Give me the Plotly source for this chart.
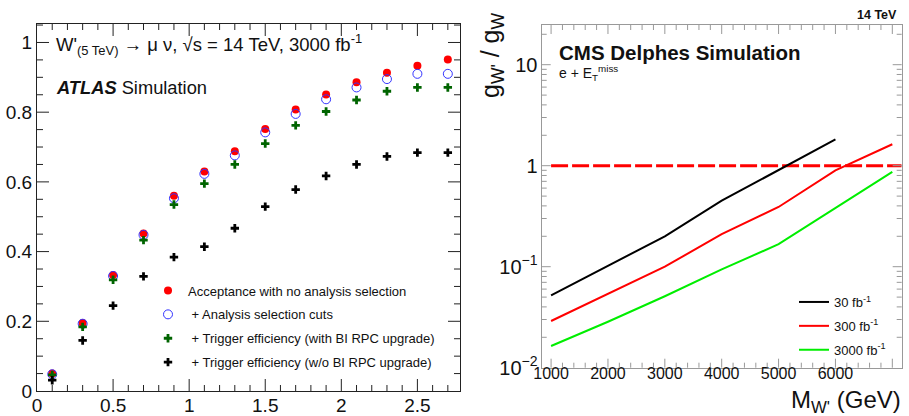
import math
import plotly.graph_objects as go

# ---------------- data: left panel (ATLAS) ----------------
atlas_x = [0.1, 0.3, 0.5, 0.7, 0.9, 1.1, 1.3, 1.5, 1.7, 1.9, 2.1, 2.3, 2.5, 2.7]
acc_noselection = [0.050, 0.195, 0.333, 0.452, 0.560, 0.630, 0.688, 0.752, 0.808, 0.851, 0.886, 0.913, 0.933, 0.951]
acc_analysis = [0.048, 0.193, 0.330, 0.448, 0.553, 0.623, 0.676, 0.742, 0.795, 0.837, 0.871, 0.895, 0.910, 0.910]
acc_trig_bi = [0.046, 0.184, 0.319, 0.433, 0.535, 0.595, 0.650, 0.710, 0.762, 0.802, 0.835, 0.860, 0.871, 0.871]
acc_trig_nobi = [0.031, 0.145, 0.245, 0.329, 0.384, 0.414, 0.467, 0.529, 0.578, 0.617, 0.650, 0.673, 0.684, 0.684]

atlas_names = [
    "Acceptance with no analysis selection",
    " + Analysis selection cuts",
    " + Trigger efficiency (with BI RPC upgrade)",
    " + Trigger efficiency (w/o BI RPC upgrade)",
]

# ---------------- data: right panel (CMS) ----------------
mass_30 = [1000, 2000, 3000, 4000, 5000, 6000]
lim_30 = [0.052, 0.102, 0.200, 0.45, 0.90, 1.82]
mass_300 = [1000, 2000, 3000, 4000, 5000, 6000, 7000]
lim_300 = [0.029, 0.054, 0.100, 0.21, 0.39, 0.90, 1.63]
mass_3000 = [1000, 2000, 3000, 4000, 5000, 6000, 7000]
lim_3000 = [0.0164, 0.0285, 0.051, 0.094, 0.167, 0.38, 0.87]
ref_mass = [1000, 7165]
ref_ratio = [1, 1]

cms_names = ["30 fb<sup>-1</sup>", "300 fb<sup>-1</sup>", "3000 fb<sup>-1</sup>"]

W, H = 909, 416
FONT = "Liberation Sans, Arial, sans-serif"

# frame geometry (pixels)
L_X0, L_X1, L_Y0, L_Y1 = 37, 460, 24, 391
R_X0, R_X1, R_Y0, R_Y1 = 541.7, 901.7, 25, 367.7
L_XR, L_YR = [0, 2.78], [0, 1.053]
R_XR, R_YR = [835, 7165], [-2, 1.393]

def px(x):
    return x / W

def py(y):
    return 1 - y / H

fig = go.Figure()

fig.add_trace(go.Scatter(x=atlas_x, y=acc_noselection, mode="markers", name=atlas_names[0],
                         marker=dict(symbol="circle", size=8, color="#ff0000"),
                         xaxis="x", yaxis="y", legend="legend", legendgroup="a1"))
fig.add_trace(go.Scatter(x=atlas_x, y=acc_analysis, mode="markers", name=atlas_names[1],
                         marker=dict(symbol="circle-open", size=9, color="#3333ff", line=dict(width=1)),
                         xaxis="x", yaxis="y", legend="legend", legendgroup="a2"))
fig.add_trace(go.Scatter(x=atlas_x, y=acc_trig_bi, mode="markers", name=atlas_names[2],
                         marker=dict(symbol="cross", size=7, color="#006400"),
                         xaxis="x", yaxis="y", legend="legend", legendgroup="a3"))
fig.add_trace(go.Scatter(x=atlas_x, y=acc_trig_nobi, mode="markers", name=atlas_names[3],
                         marker=dict(symbol="cross", size=7, color="#000000"),
                         xaxis="x", yaxis="y", legend="legend", legendgroup="a4"))

fig.add_trace(go.Scatter(x=ref_mass, y=ref_ratio, mode="lines", showlegend=False,
                         line=dict(color="#ff0000", width=3, dash="17px,4px"),
                         xaxis="x2", yaxis="y2"))
fig.add_trace(go.Scatter(x=mass_30, y=lim_30, mode="lines", name=cms_names[0],
                         line=dict(color="#000000", width=2),
                         xaxis="x2", yaxis="y2", legend="legend2", legendgroup="c1"))
fig.add_trace(go.Scatter(x=mass_300, y=lim_300, mode="lines", name=cms_names[1],
                         line=dict(color="#ff0000", width=2),
                         xaxis="x2", yaxis="y2", legend="legend2", legendgroup="c2"))
fig.add_trace(go.Scatter(x=mass_3000, y=lim_3000, mode="lines", name=cms_names[2],
                         line=dict(color="#00ee00", width=2),
                         xaxis="x2", yaxis="y2", legend="legend2", legendgroup="c3"))

# ---------------- tick marks (inside, on all four sides) ----------------
shapes = []

def vticks(xref, ydom, vals, length_px, height_px, color):
    f = length_px / height_px
    for v in vals:
        shapes.append(dict(type="line", xref=xref, yref=ydom, x0=v, x1=v, y0=0, y1=f,
                           line=dict(color=color, width=1), layer="above"))
        shapes.append(dict(type="line", xref=xref, yref=ydom, x0=v, x1=v, y0=1, y1=1 - f,
                           line=dict(color=color, width=1), layer="above"))

def hticks(xdom, yref, vals, length_px, width_px, color):
    f = length_px / width_px
    for v in vals:
        shapes.append(dict(type="line", xref=xdom, yref=yref, x0=0, x1=f, y0=v, y1=v,
                           line=dict(color=color, width=1), layer="above"))
        shapes.append(dict(type="line", xref=xdom, yref=yref, x0=1, x1=1 - f, y0=v, y1=v,
                           line=dict(color=color, width=1), layer="above"))

LW, LH = L_X1 - L_X0, L_Y1 - L_Y0
RW, RH = R_X1 - R_X0, R_Y1 - R_Y0

# left panel: major 0.5 / minor 0.1 on x, major 0.2 / minor 0.05 on y
lx_major = [i * 0.5 for i in range(1, 6)]
lx_minor = [i / 10 for i in range(1, 28) if i % 5 != 0]
ly_major = [i * 0.2 for i in range(1, 6)]
ly_minor = [i * 0.05 for i in range(1, 22) if i % 4 != 0]
vticks("x", "y domain", lx_major, 12, LH, "#222222")
vticks("x", "y domain", lx_minor, 6, LH, "#222222")
hticks("x domain", "y", ly_major, 12, LW, "#222222")
hticks("x domain", "y", ly_minor, 6, LW, "#222222")

# right panel: major 1000 / minor 200 on x, decades / 2..9 on log y
rx_major = [1000 * i for i in range(1, 8)]
rx_minor = [200 * i for i in range(5, 36) if i % 5 != 0]
ry_major = [10.0 ** d for d in (-1, 0, 1)]
ry_minor = [k * 10.0 ** d for d in (-2, -1, 0, 1) for k in range(2, 10)
            if math.log10(k * 10.0 ** d) < R_YR[1]]

def logfrac(v):
    return (math.log10(v) - R_YR[0]) / (R_YR[1] - R_YR[0])

vticks("x2", "y2 domain", rx_major, 9, RH, "#999999")
vticks("x2", "y2 domain", rx_minor, 5, RH, "#999999")
hticks("x2 domain", "y2 domain", [logfrac(v) for v in ry_major], 9, RW, "#999999")
hticks("x2 domain", "y2 domain", [logfrac(v) for v in ry_minor], 5, RW, "#999999")

axis_left = dict(showline=True, linecolor="#222222", linewidth=1, mirror=True, automargin=False,
                 ticks="", showgrid=False, zeroline=False,
                 tickfont=dict(family=FONT, size=19, color="#111111"))
axis_right = dict(showline=True, linecolor="#999999", linewidth=1, mirror=True, automargin=False,
                  ticks="", showgrid=False, zeroline=False,
                  tickfont=dict(family=FONT, size=16, color="#111111"))

fig.update_layout(
    width=W, height=H,
    margin=dict(l=0, r=0, t=0, b=0, autoexpand=False),
    paper_bgcolor="white", plot_bgcolor="white",
    font=dict(family=FONT, color="#111111"),
    xaxis=dict(axis_left, domain=[px(L_X0), px(L_X1)], range=L_XR,
               tickmode="linear", tick0=0, dtick=0.5, ticklabelstandoff=-3, anchor="y"),
    yaxis=dict(axis_left, domain=[py(L_Y1), py(L_Y0)], range=L_YR,
               tickmode="linear", tick0=0, dtick=0.2, anchor="x"),
    xaxis2=dict(axis_right, domain=[px(R_X0), px(R_X1)], range=R_XR,
                tickmode="linear", tick0=0, dtick=1000, ticklabelstandoff=-9, anchor="y2"),
    yaxis2=dict(axis_right, type="log", domain=[py(R_Y1), py(R_Y0)], range=R_YR,
                tickmode="linear", tick0=0, dtick=1, exponentformat="power", anchor="x2"),
    shapes=shapes,
    legend=dict(x=px(148), y=py(275.5), xanchor="left", yanchor="top",
                bgcolor="rgba(0,0,0,0)", font=dict(family=FONT, size=13, color="#111111"),
                tracegroupgap=4, itemwidth=30),
    legend2=dict(x=px(794), y=py(287), xanchor="left", yanchor="top",
                 bgcolor="rgba(0,0,0,0)", font=dict(family=FONT, size=13, color="#111111"),
                 tracegroupgap=4, itemwidth=30),
    annotations=[
        dict(text="W'<sub>(5 TeV)</sub> → μ ν, √s = 14 TeV, 3000 fb<sup>-1</sup>",
             x=px(54), y=py(45), xref="paper", yref="paper", xanchor="left", yanchor="middle",
             showarrow=False, font=dict(family=FONT, size=18.5, color="#111111")),
        dict(text="<b><i>ATLAS</i></b> Simulation",
             x=px(54), y=py(87), xref="paper", yref="paper", xanchor="left", yanchor="middle",
             showarrow=False, font=dict(family=FONT, size=18.3, color="#111111")),
        dict(text="<b>CMS Delphes Simulation</b>",
             x=px(557), y=py(52), xref="paper", yref="paper", xanchor="left", yanchor="middle",
             showarrow=False, font=dict(family=FONT, size=20.5, color="#111111")),
        dict(text="e + E<sub>T</sub><sup>miss</sup>",
             x=px(557), y=py(73), xref="paper", yref="paper", xanchor="left", yanchor="middle",
             showarrow=False, font=dict(family=FONT, size=14, color="#111111")),
        dict(text="<b>14 TeV</b>",
             x=px(899), y=py(15), xref="paper", yref="paper", xanchor="right", yanchor="middle",
             showarrow=False, font=dict(family=FONT, size=12.5, color="#111111")),
        dict(text="g<sub>W'</sub> / g<sub>W</sub>",
             x=px(492), y=py(55), xref="paper", yref="paper", xanchor="center", yanchor="middle",
             textangle=-90, showarrow=False, font=dict(family=FONT, size=25, color="#111111")),
        dict(text="M<sub>W'</sub> (GeV)",
             x=px(903), y=py(401), xref="paper", yref="paper", xanchor="right", yanchor="middle",
             showarrow=False, font=dict(family=FONT, size=24, color="#111111")),
    ],
)

fig.write_html("out.html")
